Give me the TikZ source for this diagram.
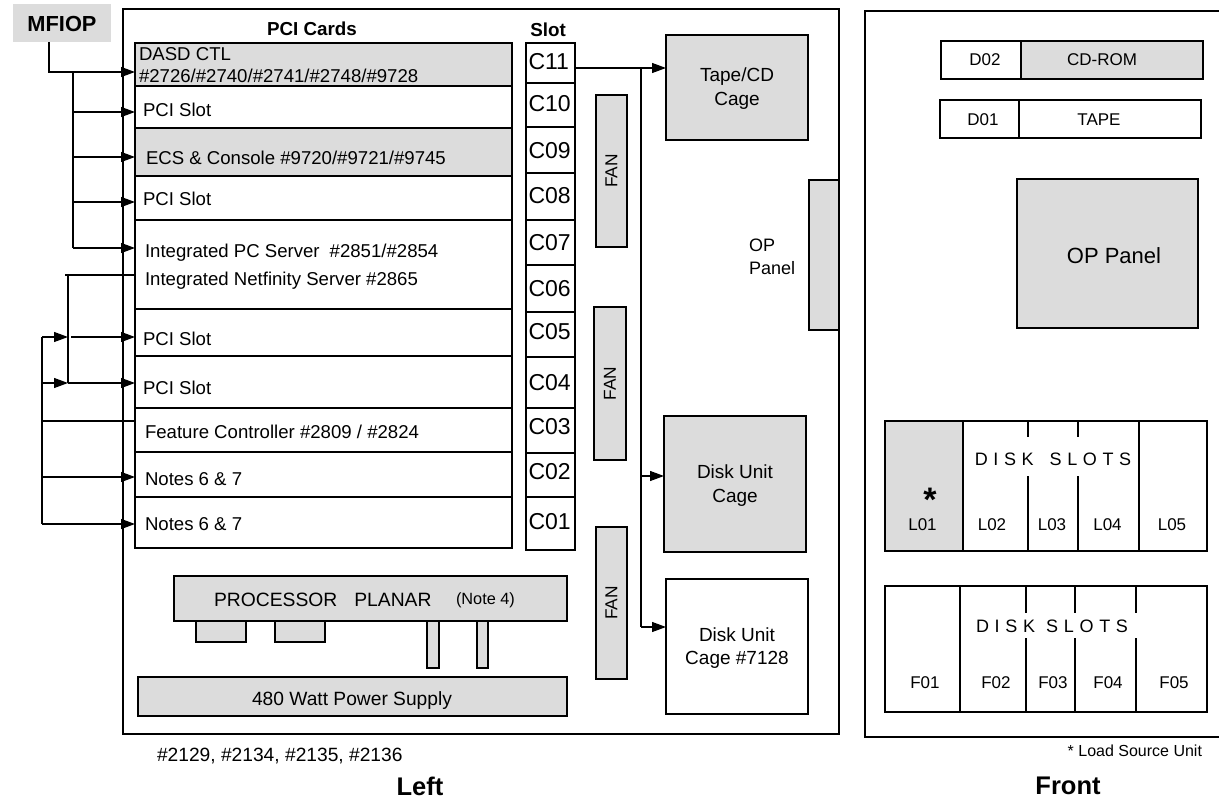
\documentclass[tikz,border=0pt]{standalone}
\usepackage{fontspec}
\setmainfont{Liberation Sans}
\usetikzlibrary{arrows.meta,fit}
\definecolor{boxgray}{RGB}{220,220,220}
\newcommand\fsz[2]{\fontsize{#1}{#2}\selectfont}
\begin{document}
\begin{tikzpicture}[x=1pt,y=-1pt,
  every node/.style={inner sep=0pt, outer sep=0pt, font=\fsz{18.6}{22}},
  frame/.style={draw, line width=1.4pt},
  bx/.style={draw, line width=1.2pt, inner sep=0pt},
  gbx/.style={bx, fill=boxgray},
  con/.style={line width=1.2pt},
  arr/.style={con, -{Triangle[length=14pt,width=10pt]}},
  rlbl/.style={font=\fsz{17}{20}},
  spc/.style={font=\fsz{18}{20}, anchor=base}]
\useasboundingbox (0,0) rectangle (1219,800);

% ---------- frames ----------
\node[frame, fit={(123,9) (839,734)}] (leftframe) {};
\draw[frame] (1230,11) -- (865,11) -- (865,737) -- (1230,737);

% ---------- MFIOP ----------
\node[fill=boxgray, fit={(13,4) (111,42)}] (mfiop) {};
\node[font=\bfseries\fsz{21.8}{24}] at ([yshift=-1pt]mfiop.center) {MFIOP};

% ---------- headers ----------
\node[font=\bfseries\fsz{18.8}{22}, anchor=base] at (312,36) {PCI Cards};
\node[font=\bfseries\fsz{18.8}{22}, anchor=base] at (548,37) {Slot};

% ---------- PCI cards ----------
\node[gbx, fit={(135,43) (512,86)}] (c1) {};
\node[bx, fit={(135,86) (512,128)}] (c2) {};
\node[gbx, fit={(135,128) (512,176)}] (c3) {};
\node[bx, fit={(135,176) (512,220)}] (c4) {};
\node[bx, fit={(135,220) (512,309)}] (c5) {};
\node[bx, fit={(135,309) (512,356)}] (c6) {};
\node[bx, fit={(135,356) (512,408)}] (c7) {};
\node[bx, fit={(135,408) (512,452)}] (c8) {};
\node[bx, fit={(135,452) (512,497)}] (c9) {};
\node[bx, fit={(135,497) (512,548)}] (c10) {};

\node[anchor=base west] at (139,61) {DASD CTL};
\node[anchor=base west] at (139,83) {\#2726/\#2740/\#2741/\#2748/\#9728};
\node[anchor=base west] at (143,117) {PCI Slot};
\node[anchor=base west] at (146,164) {ECS \& Console \#9720/\#9721/\#9745};
\node[anchor=base west] at (143,205) {PCI Slot};
\node[anchor=base west] at (145,257) {Integrated PC Server\hspace{10pt}\#2851/\#2854};
\node[anchor=base west] at (145,285) {Integrated Netfinity Server \#2865};
\node[anchor=base west] at (143,345.5) {PCI Slot};
\node[anchor=base west] at (143,394) {PCI Slot};
\node[anchor=base west] at (145,438) {Feature Controller \#2809 / \#2824};
\node[anchor=base west] at (145,485) {Notes 6 \& 7};
\node[anchor=base west] at (145,530) {Notes 6 \& 7};

% ---------- slots ----------
\foreach \n/\ya/\yb/\bl in {11/43/83/70, 10/83/127/111.7, 09/127/173/158.3,
    08/173/220/203.3, 07/220/265/250, 06/265/312/296.7, 05/312/357/339,
    04/357/408/390.7, 03/408/453/434, 02/453/497/479, 01/497/550/529}{
  \node[bx, fit={(526,\ya) (575,\yb)}] (s\n) {};
  \node[font=\fsz{23}{26}, anchor=base west] at (528.5,\bl) {C\n};
}

% ---------- fans ----------
\node[gbx, fit={(596,95) (627,247)}] (fan1) {};
\node[gbx, fit={(594,307) (626,460)}] (fan2) {};
\node[gbx, fit={(596,527) (627,679)}] (fan3) {};
\foreach \f in {fan1,fan2,fan3}
  \node[rotate=90, font=\fsz{17.3}{20}] at (\f) {FAN};

% ---------- cages ----------
\node[gbx, fit={(666,35) (808,140)}] (tape) {};
\node[align=center, font=\fsz{19}{24}] at ([yshift=-1pt]tape.center) {Tape/CD\\Cage};
\node[gbx, fit={(664,416) (806,552)}] (disk) {};
\node[align=center, font=\fsz{19}{24}] at ([yshift=-2pt]disk.center) {Disk Unit\\Cage};
\node[bx, fit={(666,579) (808,714)}] (disk2) {};
\node[align=center, font=\fsz{19}{23}] at ([yshift=-2pt]disk2.center) {Disk Unit\\Cage \#7128};

% ---------- OP panel (side) ----------
\node[gbx, fit={(809,180) (839,330)}] (opside) {};
\node[anchor=base west, font=\fsz{18}{22}] at (749,251) {OP};
\node[anchor=base west, font=\fsz{18}{22}] at (749,274) {Panel};

% ---------- processor planar & power ----------
\node[gbx, fit={(196,621) (246,642)}] (m1) {};
\node[gbx, fit={(275,621) (325,642)}] (m2) {};
\node[gbx, fit={(427,621) (439,668)}] (t1) {};
\node[gbx, fit={(477,621) (488,668)}] (t2) {};
\node[gbx, fit={(174,576) (567,621)}] (planar) {};
\node[anchor=base west, font=\fsz{19.3}{22}] at (214,606) {PROCESSOR\hspace{17pt}PLANAR};
\node[anchor=base west, font=\fsz{16.3}{19}] at (456,604) {(Note 4)};
\node[gbx, fit={(138,677) (567,716)}] (psu) {};
\node[anchor=base, font=\fsz{19.2}{22}] at (352,705) {480 Watt Power Supply};

\node[anchor=base west, font=\fsz{19.2}{22}] at (157,761) {\#2129, \#2134, \#2135, \#2136};
\node[anchor=base, font=\bfseries\fsz{25.5}{28}] at (420,795) {Left};

% ---------- front: D02 / D01 ----------
\node[bx, fit={(941,41) (1021,79)}] (d02) {};
\node[gbx, fit={(1021,41) (1203,79)}] (cdrom) {};
\node[rlbl] at (985,60) {D02};
\node[rlbl] at (1102,60) {CD-ROM};
\node[bx, fit={(940,100) (1019,138)}] (d01) {};
\node[bx, fit={(1019,100) (1201,138)}] (tapefront) {};
\node[rlbl] at (983,119.5) {D01};
\node[rlbl] at (1099,119.5) {TAPE};

% ---------- front: OP panel ----------
\node[gbx, fit={(1017,179) (1198,328)}] (opfront) {};
\node[font=\fsz{22}{26}] at (1114,256) {OP Panel};

% ---------- front: L disk bay ----------
\node[bx, fit={(885,421) (1207,551)}] (lbay) {};
\node[gbx, line width=1.8pt, fit={(885,421) (963,551)}] (l01) {};
\draw[con] (1028,421) -- (1028,437) (1028,476) -- (1028,551);
\draw[con] (1078,421) -- (1078,437) (1078,476) -- (1078,551);
\draw[con] (1139,421) -- (1139,551);
\node[spc] at (1053,465) {D\kern5.6pt I\kern5.6pt S\kern5.6pt K\kern16pt S\kern5.6pt L\kern5.6pt O\kern5.6pt T\kern5.6pt S};
\node[anchor=base, font=\bfseries\fsz{34}{36}] at (930,511) {*};
\node[rlbl, anchor=base] at (922.5,530) {L01};
\node[rlbl, anchor=base] at (992,530) {L02};
\node[rlbl, anchor=base] at (1052,530) {L03};
\node[rlbl, anchor=base] at (1107.5,530) {L04};
\node[rlbl, anchor=base] at (1172,530) {L05};

% ---------- front: F disk bay ----------
\node[bx, fit={(885,586) (1207,712)}] (fbay) {};
\draw[con] (960,586) -- (960,712);
\draw[con] (1026,586) -- (1026,613) (1026,638) -- (1026,712);
\draw[con] (1075,586) -- (1075,613) (1075,638) -- (1075,712);
\draw[con] (1136,586) -- (1136,613) (1136,638) -- (1136,712);
\node[spc] at (1052,632) {D\kern5.7pt I\kern5.7pt S\kern5.7pt K\kern11pt S\kern5.7pt L\kern5.7pt O\kern5.7pt T\kern5.7pt S};
\node[rlbl, anchor=base] at (925,688) {F01};
\node[rlbl, anchor=base] at (996,688) {F02};
\node[rlbl, anchor=base] at (1053,688) {F03};
\node[rlbl, anchor=base] at (1108,688) {F04};
\node[rlbl, anchor=base] at (1174,688) {F05};

\node[anchor=base east, font=\fsz{16}{19}] at (1202,756) {* Load Source Unit};
\node[anchor=base, font=\bfseries\fsz{25.5}{28}] at (1068,794) {Front};

% ---------- connectors: MFIOP ----------
\draw[arr] ([xshift=-13pt]mfiop.south) |- (c1.west |- 0,72);
\draw[con] (73,72) -- (73,248);
\foreach \yy/\cc in {112/c2,157/c3,202/c4,248/c5}
  \draw[arr] (73,\yy) -- (\cc.west |- 0,\yy);

% ---------- connectors: Integrated server ----------
\draw[con] (c5.west |- 0,275) -- (65,275);
\draw[con] (68,275) -- (68,383);
\draw[arr] (71,337) -- (c6.west |- 0,337);
\draw[arr] (68,383) -- (c7.west |- 0,383);

% ---------- connectors: Feature controller ----------
\draw[con] (c8.west |- 0,421) -- (42,421);
\draw[con] (42,337) -- (42,524);
\draw[arr] (42,337) -- (68,337);
\draw[arr] (42,383) -- (68,383);
\draw[arr] (42,477) -- (c9.west |- 0,477);
\draw[arr] (42,524) -- (c10.west |- 0,524);

% ---------- connectors: C11 to cages ----------
\draw[arr] (s11.east |- 0,68) -- (tape.west |- 0,68);
\draw[con] (641,68) -- (641,627);
\draw[arr] (641,476) -- (disk.west |- 0,476);
\draw[arr] (641,627) -- (disk2.west |- 0,627);
\end{tikzpicture}
\end{document}
